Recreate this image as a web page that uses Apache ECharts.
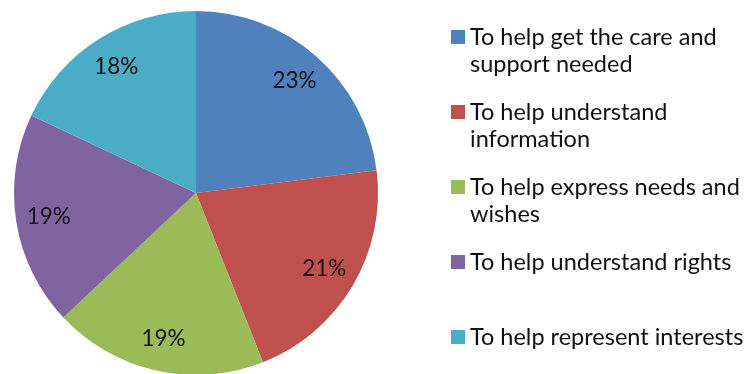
<!DOCTYPE html>
<html>
<head>
<meta charset="utf-8">
<script src="https://cdn.jsdelivr.net/npm/echarts@6/dist/echarts.min.js"></script>
<style>
  html, body { margin: 0; padding: 0; background: #fff; }
  #chart { width: 749px; height: 374px; }
</style>
</head>
<body>
<div id="chart"></div>
<script>
// Reasons for support, share of responses (%)
const categories = [
  'To help get the care and\nsupport needed',
  'To help understand\ninformation',
  'To help express needs and\nwishes',
  'To help understand rights',
  'To help represent interests'
];
const values = [23, 21, 19, 19, 18];
const colors = ['#4F81BD', '#C0504D', '#9BBB59', '#8064A2', '#4BACC6'];

const FONT = 'Lato, "Open Sans", sans-serif';
const LINE_H = 27;

const pieData = categories.map((name, i) => ({
  name,
  value: values[i],
  itemStyle: { color: colors[i] }
}));

// One legend block per entry so every swatch sits on the first text line
const legends = categories.map((name, i) => {
  const multi = name.indexOf('\n') >= 0;
  const iconCenter = 37 + i * 75;
  const blockH = multi ? LINE_H * 3 : LINE_H;
  return {
    orient: 'vertical',
    left: 451,
    top: iconCenter - blockH / 2,
    padding: 0,
    data: [name],
    icon: 'rect',
    itemWidth: 14,
    itemHeight: 14,
    selectedMode: false,
    formatter: n => (n.indexOf('\n') >= 0 ? '\n' + n : n),
    textStyle: {
      fontFamily: FONT,
      fontSize: 23.5,
      lineHeight: LINE_H,
      color: '#111'
    }
  };
});

const chart = echarts.init(document.getElementById('chart'), null, { renderer: 'canvas' });
chart.setOption({
  animation: false,
  backgroundColor: '#fff',
  legend: legends,
  series: [
    {
      type: 'pie',
      center: [196, 193],
      radius: [0, 182],
      startAngle: 90,
      clockwise: true,
      label: { show: false },
      labelLine: { show: false },
      itemStyle: { borderWidth: 0 },
      emphasis: { disabled: true },
      data: pieData
    },
    {
      // percentage labels placed in the outer part of each slice
      type: 'pie',
      center: [196, 193],
      radius: [110, 182],
      startAngle: 90,
      clockwise: true,
      silent: true,
      legendHoverLink: false,
      itemStyle: { color: 'rgba(0,0,0,0)', borderWidth: 0 },
      label: {
        show: true,
        position: 'inside',
        formatter: p => p.value + '%',
        fontFamily: FONT,
        fontSize: 22.5,
        color: '#111'
      },
      labelLine: { show: false },
      emphasis: { disabled: true },
      data: categories.map((name, i) => ({ name, value: values[i] }))
    }
  ]
});
</script>
</body>
</html>
